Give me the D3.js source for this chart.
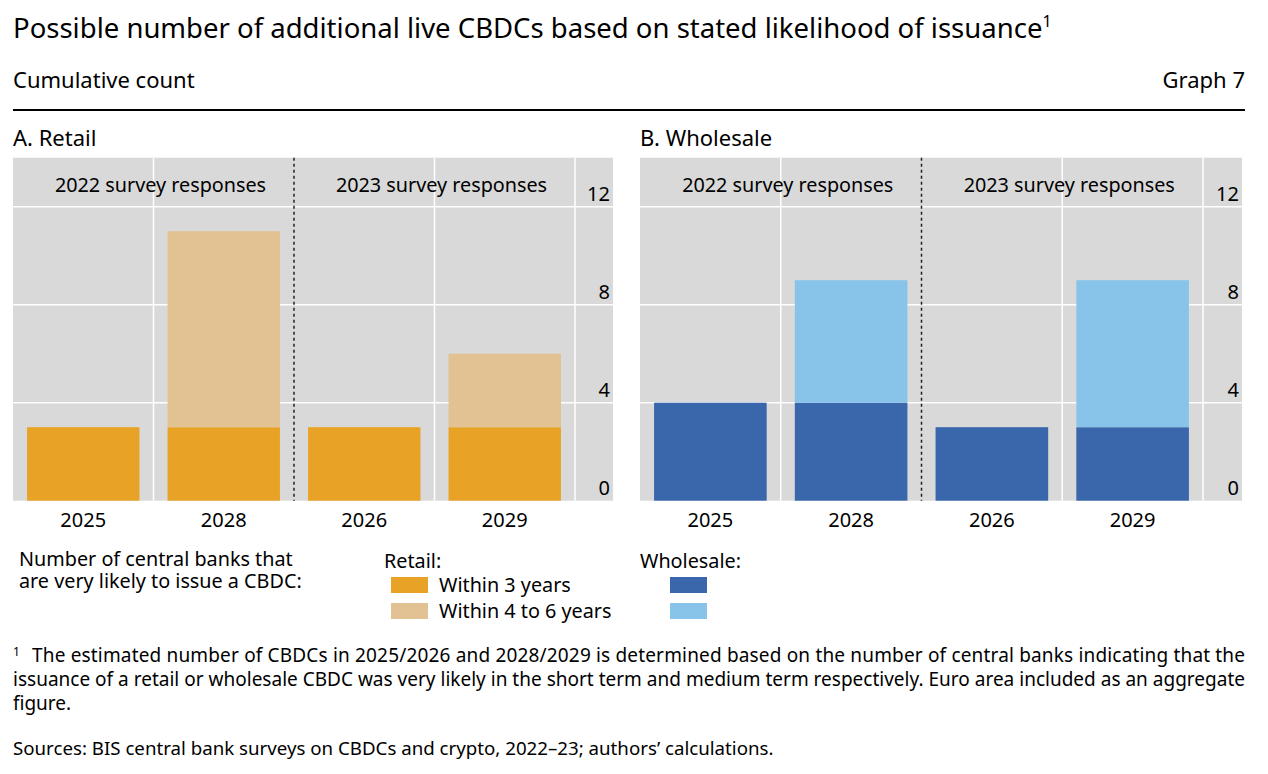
<!DOCTYPE html>
<html><head><meta charset="utf-8">
<script src="https://cdn.jsdelivr.net/npm/d3@7"></script>
<style>body{margin:0;background:#fff}svg{display:block;font-family:"Noto Sans",sans-serif}</style>
</head><body><svg id="c" width="1268" height="774"></svg>
<script>
const categories = ["2025","2028","2026","2029"];
const surveyLabels = ["2022 survey responses","2023 survey responses"];
const retailShort = [3,3,3,3];
const retailMedium = [0,8,0,3];
const wholesaleShort = [4,4,3,3];
const wholesaleMedium = [0,5,0,6];
const yTicks = [0,4,8,12];
const legendRetail = ["Within 3 years","Within 4 to 6 years"];
const legendIntro = ["Number of central banks that","are very likely to issue a CBDC:"];
const colors = {retailShort:"#E8A326", retailMedium:"#E2C293", wholeShort:"#3A67AB", wholeMedium:"#88C4EA", bg:"#D9D9D9"};

const svg = d3.select("#c");

// Title
const t = svg.append("text").attr("x",13).attr("y",38).attr("font-size",27.5).attr("fill","#000");
t.append("tspan").text("Possible number of additional live CBDCs based on stated likelihood of issuance");
t.append("tspan").attr("font-size",16).attr("dy",-11).text("1");
svg.append("text").attr("x",13).attr("y",88).attr("font-size",22).text("Cumulative count");
svg.append("text").attr("x",1245).attr("y",88).attr("font-size",22).attr("text-anchor","end").text("Graph 7");
svg.append("line").attr("x1",13).attr("x2",1245).attr("y1",110).attr("y2",110).attr("stroke","#000").attr("stroke-width",2);

function panel(title, x0, x1, xEnd, shortV, medV, cS, cM){
  const g = svg.append("g");
  g.append("text").attr("x",x0).attr("y",146).attr("font-size",22).text(title);
  const x = d3.scaleBand().domain(categories).range([x0,x1]).paddingInner(0.2).paddingOuter(0.1);
  const y = d3.scaleLinear().domain([0,14]).range([500.7,157.7]);
  g.append("rect").attr("x",x0).attr("y",y(14)).attr("width",xEnd-x0).attr("height",y(0)-y(14)).attr("fill",colors.bg);
  g.selectAll(".hg").data(yTicks.filter(d=>d>0)).enter().append("line")
    .attr("x1",x0).attr("x2",xEnd).attr("y1",d=>y(d)).attr("y2",d=>y(d)).attr("stroke","#fff").attr("stroke-width",1.5);
  const step = x.step();
  const bounds = categories.map((c,i)=>x0 + step*(i+1));
  g.selectAll(".vg").data(bounds).enter().append("line")
    .attr("x1",d=>d).attr("x2",d=>d).attr("y1",y(14)).attr("y2",y(0))
    .attr("stroke",(d,i)=>i===1?"none":"#fff").attr("stroke-width",1.5);
  g.selectAll(".bs").data(categories).enter().append("rect")
    .attr("x",d=>x(d)).attr("width",x.bandwidth())
    .attr("y",(d,i)=>y(shortV[i])).attr("height",(d,i)=>y(0)-y(shortV[i])).attr("fill",cS);
  g.selectAll(".bm").data(categories).enter().append("rect")
    .attr("x",d=>x(d)).attr("width",x.bandwidth())
    .attr("y",(d,i)=>y(shortV[i]+medV[i])).attr("height",(d,i)=>y(shortV[i])-y(shortV[i]+medV[i])).attr("fill",cM);
  g.append("line").attr("x1",bounds[1]).attr("x2",bounds[1]).attr("y1",y(14)).attr("y2",y(0))
    .attr("stroke","#222").attr("stroke-width",1.5).attr("stroke-dasharray","3,3");
  g.selectAll(".sl").data(surveyLabels).enter().append("text")
    .attr("x",(d,i)=>x0 + step*(2*i+1) + 7).attr("y",192).attr("text-anchor","middle").attr("font-size",19.8).text(d=>d);
  g.selectAll(".yt").data(yTicks).enter().append("text")
    .attr("x",xEnd-3).attr("y",d=>y(d)-6).attr("text-anchor","end").attr("font-size",20).text(d=>d);
  g.selectAll(".xl").data(categories).enter().append("text")
    .attr("x",d=>x(d)+x.bandwidth()/2).attr("y",527).attr("text-anchor","middle").attr("font-size",20).text(d=>d);
}
panel("A. Retail", 13, 575, 613, retailShort, retailMedium, colors.retailShort, colors.retailMedium);
panel("B. Wholesale", 640, 1203, 1242, wholesaleShort, wholesaleMedium, colors.wholeShort, colors.wholeMedium);

// Legend
const intro = svg.append("text").attr("x",19).attr("y",566).attr("font-size",19.8);
intro.selectAll("tspan").data(legendIntro).enter().append("tspan")
  .attr("x",19).attr("dy",(d,i)=>i===0?0:22).text(d=>d);
svg.append("text").attr("x",384).attr("y",568).attr("font-size",19.8).text("Retail:");
svg.append("text").attr("x",640).attr("y",568).attr("font-size",19.8).text("Wholesale:");
const ly = [577, 603];
svg.selectAll(".lr").data(legendRetail).enter().append("rect")
  .attr("x",391).attr("y",(d,i)=>ly[i]).attr("width",37).attr("height",16)
  .attr("fill",(d,i)=>i===0?colors.retailShort:colors.retailMedium);
svg.selectAll(".lt").data(legendRetail).enter().append("text")
  .attr("x",439).attr("y",(d,i)=>ly[i]+15).attr("font-size",19.8).text(d=>d);
svg.selectAll(".lw").data(legendRetail).enter().append("rect")
  .attr("x",670).attr("y",(d,i)=>ly[i]).attr("width",37).attr("height",16)
  .attr("fill",(d,i)=>i===0?colors.wholeShort:colors.wholeMedium);

// Footnote
svg.append("text").attr("x",13).attr("y",656).attr("font-size",12).text("1");
svg.append("text").attr("x",32).attr("y",662).attr("font-size",19).attr("textLength",1213).attr("lengthAdjust","spacing")
  .text("The estimated number of CBDCs in 2025/2026 and 2028/2029 is determined based on the number of central banks indicating that the");
svg.append("text").attr("x",13).attr("y",686).attr("font-size",19).attr("textLength",1232).attr("lengthAdjust","spacing")
  .text("issuance of a retail or wholesale CBDC was very likely in the short term and medium term respectively. Euro area included as an aggregate");
svg.append("text").attr("x",13).attr("y",710).attr("font-size",19).text("figure.");
svg.append("text").attr("x",13).attr("y",755).attr("font-size",18.7).text("Sources: BIS central bank surveys on CBDCs and crypto, 2022–23; authors’ calculations.");
</script></body></html>
